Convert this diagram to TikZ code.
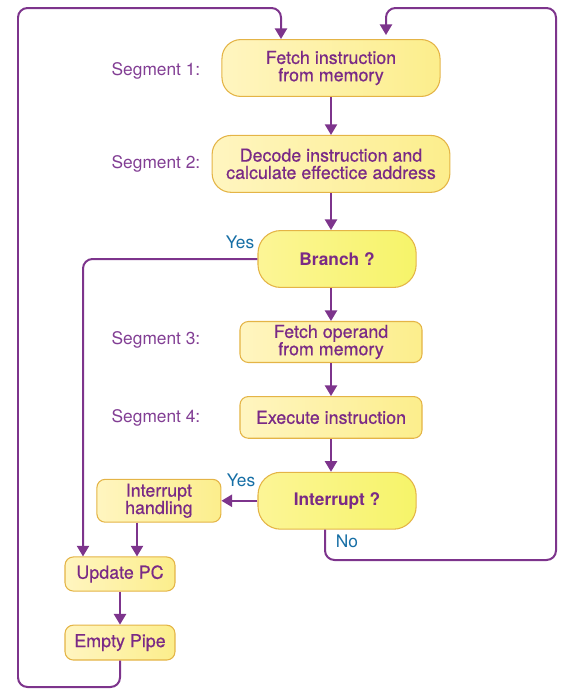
\documentclass[tikz,border=0pt]{standalone}
\usepackage{fontspec}
\setmainfont{TeX Gyre Heros}
\newfontface\boxface[FakeBold=0.6]{TeX Gyre Heros}
\definecolor{boxtext}{RGB}{122, 42, 134}
\definecolor{segpurple}{RGB}{130, 62, 148}
\definecolor{linepurple}{RGB}{125, 52, 140}
\definecolor{ansblue}{RGB}{22, 110, 165}
\definecolor{boxedge}{RGB}{228, 180, 70}
\definecolor{creamleft}{RGB}{255, 245, 192}
\definecolor{creamright}{RGB}{252, 238, 140}
\definecolor{decleft}{RGB}{252, 245, 150}
\definecolor{decright}{RGB}{246, 244, 105}
\usetikzlibrary{arrows.meta, positioning}
\tikzset{
	flow/.style={rectangle, rounded corners=0.5cm, draw=boxedge, left color=creamleft, right color=creamright, line width=0.8pt, align=center, minimum height=1.5cm, inner sep=2pt, text=boxtext, font=\fontsize{13.4}{13}\boxface},
	smallflow/.style={rectangle, rounded corners=0.22cm, draw=boxedge, left color=creamleft, right color=creamright, line width=0.8pt, align=center, minimum height=1.08cm, inner sep=2pt, text=boxtext, font=\fontsize{13.4}{13}\boxface},
	decision/.style={rectangle, rounded corners=0.6cm, draw=boxedge, left color=decleft, right color=decright, line width=0.8pt, align=center, minimum height=1.5cm, minimum width=4.17cm, inner sep=2pt, text=boxtext, font=\fontsize{13}{13}\selectfont\bfseries},
	segment/.style={anchor=east, text=segpurple, font=\fontsize{13}{13}\selectfont},
	answer/.style={text=ansblue, font=\fontsize{13}{13}\selectfont},
	arrow/.style={-{Triangle[length=2.8mm, width=3.2mm]}, line width=1.5pt, draw=linepurple, rounded corners=0.25cm},
}

\begin{document}
\begin{tikzpicture}[x=0.02636cm, y=-0.02636cm]
		\useasboundingbox (0,0) rectangle (570,697);
		% main column
		\node[flow, minimum width=5.75cm] (fetch) at (331,68) {Fetch instruction\\from memory};
		\node[flow, minimum width=6.27cm, below=1.0cm of fetch] (decode) {Decode instruction and\\calculate effectice address};
		\node[decision, below=0.98cm of decode, xshift=0.16cm] (branch) {Branch ?};
		\node[smallflow, minimum width=4.8cm, below=0.87cm of branch, xshift=-0.16cm] (fetchop) {Fetch operand\\from memory};
		\node[smallflow, minimum width=4.8cm, minimum height=1.1cm, below=0.87cm of fetchop] (execute) {Execute instruction};
		\node[decision, below=0.87cm of execute, xshift=0.16cm] (interrupt) {Interrupt ?};
		% left side
		\node[smallflow, minimum width=3.27cm, minimum height=1.13cm, left=0.95cm of interrupt] (handling) {Interrupt\\handling};
		\node[smallflow, minimum width=2.9cm, minimum height=0.9cm] (update) at (120,574) {Update PC};
		\node[smallflow, minimum width=2.9cm, minimum height=0.92cm, below=0.87cm of update] (pipe) {Empty Pipe};
		% segment labels
		\node[segment] (seg1) at (205,71) {Segment 1:};
		\node[segment] (seg2) at (205,164) {Segment 2:};
		\node[segment] (seg3) at (205,340) {Segment 3:};
		\node[segment] (seg4) at (205,418) {Segment 4:};
		\node[answer] (yes1) at (240,242) {Yes};
		\node[answer] (yes2) at (241,480) {Yes};
		\node[answer] (no) at (347,541) {No};
		% routing points
		\coordinate (bx) at (83,0);
		\coordinate (hx) at (137,0);
		\coordinate (nx) at (325,0);
		\coordinate (lbot) at (18,687);
		\coordinate (lin) at (281,8);
		\coordinate (rbot) at (556,560);
		\coordinate (rin) at (386,8);
		\coordinate (rend) at (386,35);
		\draw[arrow] (fetch) -- (decode);
		\draw[arrow] (decode.south) -- (decode.south |- branch.north);
		\draw[arrow] (branch.south -| fetchop.north) -- (fetchop.north);
		\draw[arrow] (fetchop) -- (execute);
		\draw[arrow] (execute.south) -- (execute.south |- interrupt.north);
		\draw[arrow] (interrupt.west) -- (handling.east);
		\draw[arrow] (branch.west) -| (bx |- update.north);
		\draw[arrow] (hx |- handling.south) -- (hx |- update.north);
		\draw[arrow] (update) -- (pipe);
		\draw[arrow] (pipe.south) |- (lbot) |- (lin) -- (lin |- fetch.north);
		\draw[arrow] (nx |- interrupt.south) |- (rbot) |- (rin) -- (rend);
	\end{tikzpicture}
\end{document}
